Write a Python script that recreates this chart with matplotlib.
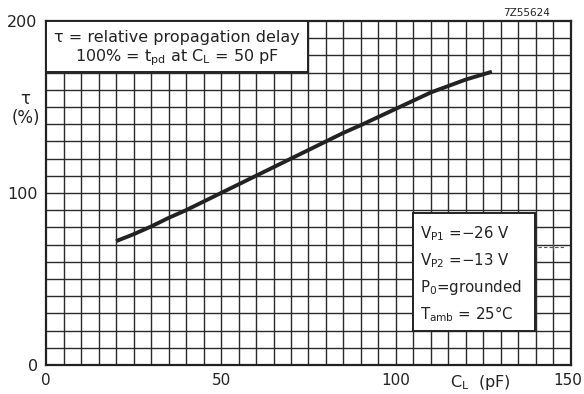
import matplotlib
matplotlib.use("Agg")
import matplotlib.pyplot as plt
import matplotlib.transforms as mtransforms
from matplotlib.patches import Rectangle

# Data
cl_pf = [20, 25, 30, 35, 40, 45, 50, 60, 70, 80, 85, 90, 100, 110, 120, 127.4]
tau_pct = [72, 76, 80.5, 85.5, 90, 95, 100, 110, 120, 130, 135, 139.5, 149, 158.5, 166, 170.5]

x_ticks = [0, 50, 100, 150]
y_ticks = [0, 100, 200]

fig = plt.figure(figsize=(5.84, 3.94), dpi=100)
ax = fig.add_axes([0.0788, 0.0736, 0.8989, 0.8731])
ax.set_xlim(0, 150)
ax.set_ylim(0, 200)

# grid
for gx in range(5, 150, 5):
    ax.axvline(gx, color="#2a2a2a", lw=1.0, zorder=1)
for gy in range(10, 200, 10):
    ax.axhline(gy, color="#2a2a2a", lw=1.0, zorder=1)

ax.plot(cl_pf, tau_pct, color="#222222", lw=2.8, solid_capstyle="butt",
        solid_joinstyle="round", zorder=3)

for s in ax.spines.values():
    s.set_linewidth(1.6)
    s.set_color("#222222")

ax.set_xticks(x_ticks)
ax.set_yticks(y_ticks)
ax.tick_params(length=0, labelsize=11.5, pad=6, colors="#222222")
ax.tick_params(axis="x", labelsize=11)
ax.set_xticklabels([str(v) for v in x_ticks])
ax.set_yticklabels([str(v) for v in y_ticks])
last = ax.get_xticklabels()[-1]
last.set_transform(last.get_transform() +
                   mtransforms.ScaledTranslation(-3 / 100, 0, fig.dpi_scale_trans))

# Axis labels
fig.text(0.044, 0.725, "τ\n(%)", ha="center", va="center", fontsize=12,
         color="#222222", linespacing=1.05)
ax.text(124, -4.5, r"C$_\mathregular{L}$  (pF)", ha="center", va="top", fontsize=11.5,
        color="#222222")

# Top-left box
ax.add_patch(Rectangle((0, 170.5), 75, 29.5, facecolor="white", edgecolor="#222222",
                       lw=1.4, zorder=4))
ax.text(37.5, 190.5, "τ = relative propagation delay", ha="center", va="center",
        fontsize=11.5, color="#222222", zorder=5)
ax.text(37.5, 178.5, r"100% = t$_\mathregular{pd}$ at C$_\mathregular{L}$ = 50 pF",
        ha="center", va="center", fontsize=11.5, color="#222222", zorder=5)

# Bottom-right box
ax.add_patch(Rectangle((105, 20), 34.7, 68.4, facecolor="white", edgecolor="#222222",
                       lw=1.4, zorder=4))
lines = [r"V$_\mathregular{P1}$ =−26 V", r"V$_\mathregular{P2}$ =−13 V",
         r"P$_\mathregular{0}$=grounded", r"T$_\mathregular{amb}$ = 25°C"]
for i, t in enumerate(lines):
    ax.text(106.8, 76.5 - i * 15.6, t, ha="left", va="center", fontsize=10.8,
            color="#222222", zorder=5)

# small mark at right
ax.plot([140.5, 148], [68.6, 68.6], color="#555555", lw=0.8, ls=(0, (3, 2)), zorder=2)
ax.plot([144.9, 144.9], [66.6, 70.6], color="#555555", lw=0.8, zorder=2)

fig.text(0.902, 0.967, "7Z55624", ha="center", va="center", fontsize=7.5, color="#222222")

fig.savefig("out.png", dpi=100)
